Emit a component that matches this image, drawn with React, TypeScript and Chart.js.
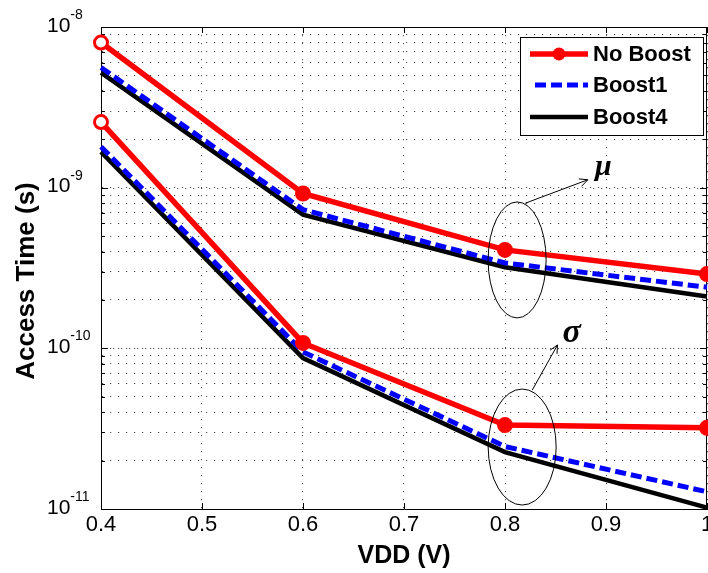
import { useEffect, useRef } from 'react';
import { Chart, registerables } from 'chart.js';

Chart.register(...registerables);

// ---------- data ----------
const vdd = [0.4, 0.6, 0.8, 1.0];
const muNoBoost = [8.0e-9, 9.2e-10, 4.1e-10, 2.9e-10];
const muBoost1 = [5.6e-9, 7.3e-10, 3.4e-10, 2.4e-10];
const muBoost4 = [5.2e-9, 6.8e-10, 3.2e-10, 2.1e-10];
const sigmaNoBoost = [2.56e-9, 1.08e-10, 3.33e-11, 3.2e-11];
const sigmaBoost1 = [1.8e-9, 9.5e-11, 2.45e-11, 1.28e-11];
const sigmaBoost4 = [1.67e-9, 8.7e-11, 2.26e-11, 1.02e-11];
const seriesNames = ['No Boost', 'Boost1', 'Boost4'];
const xTickValues = [0.4, 0.5, 0.6, 0.7, 0.8, 0.9, 1.0];
const yDecades = [-11, -10, -9, -8];
const yMinorMultipliers = [2, 3, 4, 5, 6, 7, 8, 9];
const xTitle = 'VDD (V)';
const yTitle = 'Access Time (s)';
// annotation anchors in data coordinates
const ellipseCenters = [
  [0.812, 3.55e-10],
  [0.817, 2.43e-11],
];
const arrowStarts = [
  [0.82, 8.0e-10],
  [0.827, 5.5e-11],
];
const arrowEnds = [
  [0.882, 1.12e-9],
  [0.852, 1.05e-10],
];
const annotationLabels = ['μ', 'σ'];
const labelAnchors = [
  [0.889, 1.2e-9],
  [0.857, 1.1e-10],
];

const RED = 'rgb(255,0,0)';
const BLUE = 'rgb(0,0,255)';
const BLACK = '#000';
const SANS = '"Liberation Sans", Arial, Helvetica, sans-serif';
const SERIF = '"Liberation Serif", "Times New Roman", serif';
const BLUE_DASH = [11, 5];
const GRID_DASH = [1.2, 6.8];
const GRID_COLOR = 'rgba(0,0,0,0.7)';

const toPoints = (ys: number[]) => vdd.map((x, i) => ({ x, y: ys[i] }));

const yTickList: number[] = [];
yDecades.forEach((d) => {
  if (d < -8) {
    yMinorMultipliers.forEach((m) => yTickList.push(m * Math.pow(10, d)));
  }
  yTickList.push(Math.pow(10, d));
});

const decorPlugin = {
  id: 'decor',
  beforeDatasetsDraw(chart: any) {
    const { ctx, chartArea: ca, scales } = chart;
    const ys = scales.y;
    const xs = scales.x;
    ctx.save();
    // extra dots on decade grid lines (major + minor grid overlap)
    ctx.strokeStyle = GRID_COLOR;
    ctx.lineWidth = 1;
    ctx.setLineDash(GRID_DASH);
    ctx.lineDashOffset = -4;
    yDecades.forEach((d) => {
      const y = Math.round(ys.getPixelForValue(Math.pow(10, d))) + 0.5;
      ctx.beginPath();
      ctx.moveTo(ca.left, y);
      ctx.lineTo(ca.right, y);
      ctx.stroke();
    });
    ctx.setLineDash([]);
    // box: top and right borders
    ctx.strokeStyle = '#000';
    ctx.lineWidth = 1;
    ctx.beginPath();
    ctx.moveTo(ca.left, ca.top + 0.5);
    ctx.lineTo(ca.right, ca.top + 0.5);
    ctx.moveTo(ca.right - 0.5, ca.top);
    ctx.lineTo(ca.right - 0.5, ca.bottom);
    ctx.stroke();
    // inward tick marks
    ctx.beginPath();
    xTickValues.forEach((v) => {
      const x = Math.round(xs.getPixelForValue(v)) + 0.5;
      ctx.moveTo(x, ca.bottom);
      ctx.lineTo(x, ca.bottom - 6);
      ctx.moveTo(x, ca.top);
      ctx.lineTo(x, ca.top + 6);
    });
    yTickList.forEach((v) => {
      const y = Math.round(ys.getPixelForValue(v)) + 0.5;
      const major = yDecades.some((d) => Math.abs(Math.log10(v) - d) < 1e-6);
      const len = major ? 7 : 4;
      ctx.moveTo(ca.left, y);
      ctx.lineTo(ca.left + len, y);
      ctx.moveTo(ca.right, y);
      ctx.lineTo(ca.right - len, y);
    });
    ctx.stroke();
    ctx.restore();
  },
  afterDraw(chart: any) {
    const { ctx, chartArea: ca, scales } = chart;
    const ys = scales.y;
    const xs = scales.x;
    ctx.save();
    // y tick labels 10^n
    ctx.fillStyle = '#000';
    yDecades.forEach((d) => {
      const y = ys.getPixelForValue(Math.pow(10, d));
      ctx.font = `21px ${SANS}`;
      ctx.textAlign = 'left';
      ctx.textBaseline = 'middle';
      const base = '10';
      const x0 = ca.left - 54;
      ctx.fillText(base, x0, y - 1);
      const w = ctx.measureText(base).width;
      ctx.font = `14px ${SANS}`;
      ctx.fillText(String(d), x0 + w, y - 12);
    });
    // axis titles
    ctx.font = `bold 25px ${SANS}`;
    ctx.textAlign = 'center';
    ctx.textBaseline = 'middle';
    ctx.fillText(xTitle, (ca.left + ca.right) / 2, ca.bottom + 47);
    ctx.save();
    ctx.translate(ca.left - 74, (ca.top + ca.bottom) / 2 + 13);
    ctx.rotate(-Math.PI / 2);
    ctx.font = `bold 26px ${SANS}`;
    ctx.fillText(yTitle, 0, 0);
    ctx.restore();

    // ellipses, arrows and labels
    ctx.strokeStyle = '#000';
    ctx.fillStyle = '#000';
    ctx.lineWidth = 1;
    const radii = [
      [29, 58],
      [34, 58],
    ];
    ellipseCenters.forEach((c, i) => {
      const cx = xs.getPixelForValue(c[0]);
      const cy = ys.getPixelForValue(c[1]);
      ctx.beginPath();
      ctx.ellipse(cx, cy, radii[i][0], radii[i][1], 0, 0, Math.PI * 2);
      ctx.stroke();
      const sx = xs.getPixelForValue(arrowStarts[i][0]);
      const sy = ys.getPixelForValue(arrowStarts[i][1]);
      const ex = xs.getPixelForValue(arrowEnds[i][0]);
      const ey = ys.getPixelForValue(arrowEnds[i][1]);
      ctx.beginPath();
      ctx.moveTo(sx, sy);
      ctx.lineTo(ex, ey);
      const ang = Math.atan2(ey - sy, ex - sx);
      const hl = 9;
      ctx.moveTo(ex - hl * Math.cos(ang - 0.45), ey - hl * Math.sin(ang - 0.45));
      ctx.lineTo(ex, ey);
      ctx.lineTo(ex - hl * Math.cos(ang + 0.45), ey - hl * Math.sin(ang + 0.45));
      ctx.stroke();
      const lx = xs.getPixelForValue(labelAnchors[i][0]);
      const ly = ys.getPixelForValue(labelAnchors[i][1]);
      ctx.font = `bold italic ${i === 0 ? 30 : 34}px ${SERIF}`;
      ctx.textAlign = 'left';
      ctx.textBaseline = 'alphabetic';
      ctx.fillText(annotationLabels[i], lx, ly);
    });

    // legend
    const bw = 183;
    const bh = 98;
    const bx = ca.right - 4 - bw;
    const by = ca.top + 10;
    ctx.fillStyle = '#fff';
    ctx.fillRect(bx, by, bw, bh);
    ctx.strokeStyle = '#000';
    ctx.lineWidth = 1;
    ctx.strokeRect(bx + 0.5, by + 0.5, bw, bh);
    const rowY = [17, 48, 80];
    const colors = [RED, BLUE, BLACK];
    const widths = [5.5, 5, 4.5];
    seriesNames.forEach((name, i) => {
      const y = by + rowY[i];
      ctx.strokeStyle = colors[i];
      ctx.lineWidth = widths[i];
      ctx.setLineDash(i === 1 ? BLUE_DASH : []);
      ctx.beginPath();
      ctx.moveTo(bx + 10 + (i === 1 ? 5 : 0), y);
      ctx.lineTo(bx + 68, y);
      ctx.stroke();
      ctx.setLineDash([]);
      if (i === 0) {
        ctx.fillStyle = RED;
        ctx.beginPath();
        ctx.arc(bx + 39, y, 6.5, 0, Math.PI * 2);
        ctx.fill();
      }
      ctx.fillStyle = '#000';
      ctx.font = `bold 22px ${SANS}`;
      ctx.textAlign = 'left';
      ctx.textBaseline = 'middle';
      ctx.fillText(name, bx + 73, y + 1);
    });
    ctx.restore();
  },
};

export default function App() {
  const canvasRef = useRef<HTMLCanvasElement | null>(null);

  useEffect(() => {
    const canvas = canvasRef.current;
    if (!canvas) return;
    const redLine = (ys: number[]) => ({
      data: toPoints(ys),
      borderColor: RED,
      backgroundColor: RED,
      borderWidth: 5.5,
      pointRadius: 6.5,
      pointBorderWidth: 3,
      pointBorderColor: RED,
      pointBackgroundColor: ['#fff', RED, RED, RED],
      clip: false as any,
      tension: 0,
    });
    const blueLine = (ys: number[]) => ({
      data: toPoints(ys),
      borderColor: BLUE,
      backgroundColor: BLUE,
      borderWidth: 5,
      borderDash: BLUE_DASH,
      pointRadius: 0,
      clip: false as any,
      tension: 0,
    });
    const blackLine = (ys: number[]) => ({
      data: toPoints(ys),
      borderColor: BLACK,
      backgroundColor: BLACK,
      borderWidth: 4.5,
      pointRadius: 0,
      clip: false as any,
      tension: 0,
    });
    const chart = new Chart(canvas, {
      type: 'line',
      data: {
        datasets: [
          { label: seriesNames[0], ...redLine(muNoBoost) },
          { label: seriesNames[0] + ' σ', ...redLine(sigmaNoBoost) },
          { label: seriesNames[1], ...blueLine(muBoost1) },
          { label: seriesNames[1] + ' σ', ...blueLine(sigmaBoost1) },
          { label: seriesNames[2], ...blackLine(muBoost4) },
          { label: seriesNames[2] + ' σ', ...blackLine(sigmaBoost4) },
        ] as any,
      },
      options: {
        animation: false,
        responsive: false,
        maintainAspectRatio: false,
        layout: { padding: { top: 27, right: 53, left: 0, bottom: 0 } },
        plugins: {
          legend: { display: false },
          tooltip: { enabled: false },
        },
        scales: {
          x: {
            type: 'linear',
            min: 0.4,
            max: 1.0,
            afterBuildTicks: (s: any) => {
              s.ticks = xTickValues.map((v) => ({ value: v }));
            },
            afterFit: (s: any) => {
              s.height = 64;
            },
            ticks: {
              autoSkip: false,
              maxRotation: 0,
              padding: 3,
              color: '#000',
              font: { family: SANS, size: 22 },
              callback: (v: any) => (Number(v) === 1 ? '1' : Number(v).toFixed(1)),
            },
            grid: {
              color: GRID_COLOR,
              lineWidth: 1,
              drawTicks: false,
            },
            border: { display: true, color: '#000', width: 1, dash: GRID_DASH },
          },
          y: {
            type: 'logarithmic',
            min: 1e-11,
            max: 1e-8,
            afterBuildTicks: (s: any) => {
              s.ticks = yTickList.map((v) => ({ value: v }));
            },
            afterFit: (s: any) => {
              s.width = 101;
            },
            ticks: { display: false, autoSkip: false },
            grid: {
              color: GRID_COLOR,
              lineWidth: 1,
              drawTicks: false,
            },
            border: { display: true, color: '#000', width: 1, dash: GRID_DASH },
          },
        },
      },
      plugins: [decorPlugin],
    });
    return () => chart.destroy();
  }, []);

  return (
    <div
      style={{
        position: 'absolute',
        left: 0,
        top: 0,
        width: 708,
        height: 573,
        overflow: 'hidden',
        background: '#fff',
      }}
    >
      <canvas
        ref={canvasRef}
        width={760}
        height={573}
        style={{ width: 760, height: 573, display: 'block' }}
      />
    </div>
  );
}
